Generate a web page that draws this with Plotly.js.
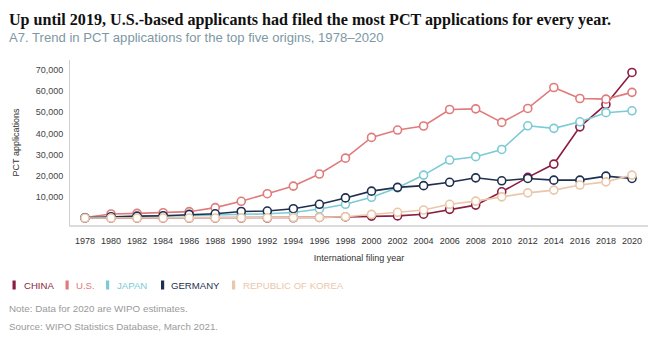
<!DOCTYPE html>
<html>
<head>
<meta charset="utf-8">
<script src="https://cdn.plot.ly/plotly-3.0.1.min.js"></script>
<style>
html,body{margin:0;padding:0;background:#fff;}
#chart{width:668px;height:337px;}
</style>
</head>
<body>
<div id="chart"></div>
<script>
const years = [1978,1980,1982,1984,1986,1988,1990,1992,1994,1996,1998,2000,2002,2004,2006,2008,2010,2012,2014,2016,2018,2020];
const china   = [0,0,0,0,0,0,0,0,100,300,500,900,1000,1800,4100,6100,12400,19200,25500,43100,53700,68800];
const us      = [200,1900,2200,2500,3000,4900,7900,11500,15100,20800,28300,38100,41600,43500,51300,51600,45200,51800,61700,56500,56200,59400];
const japan   = [50,300,500,800,1000,1300,1600,2000,2600,4300,6500,9800,14300,20300,27400,29000,32400,43600,42400,45500,49800,50700];
const germany = [100,600,900,1100,1700,2000,3100,3300,4400,6500,9500,12700,14500,15300,16900,19000,17600,18700,17900,17900,19800,18700];
const korea   = [0,0,0,0,0,10,50,100,200,300,600,1700,2700,3800,6500,8000,10000,11900,13200,15600,17100,20300];

const seriesNames = ["CHINA","U.S.","JAPAN","GERMANY","REPUBLIC OF KOREA"];
const seriesData = [china, us, japan, germany, korea];
const colors = ["#8c1d40","#e07b7b","#7ccad5","#1f2f4f","#eac7aa"];

const yTickVals = [10000,20000,30000,40000,50000,60000,70000];
const yTickText = ["10,000","20,000","30,000","40,000","50,000","60,000","70,000"];

const titleText = "Up until 2019, U.S.-based applicants had filed the most PCT applications for every year.";
const subtitleText = "A7. Trend in PCT applications for the top five origins, 1978–2020";
const noteText = "Note: Data for 2020 are WIPO estimates.";
const sourceText = "Source: WIPO Statistics Database, March 2021.";

// plot area geometry (pixels)
const L = 70, T = 60, W = 578, H = 165;
const px = x => (x - L) / W;
const py = y => (T + H - y) / H;

const traces = seriesData.map((d, i) => ({
  x: years, y: d, name: seriesNames[i], type: "scatter", mode: "lines+markers",
  line: {color: colors[i], width: 1.6},
  marker: {symbol: "circle", size: 8, color: "#ffffff", line: {color: colors[i], width: 1.6}},
  hoverinfo: "skip", showlegend: false, cliponaxis: false
}));

const legendPos = [[12.5,22],[65.5,74],[106,115],[161,169],[232,240.5]];
const shapes = [];
const annotations = [];
legendPos.forEach((p, i) => {
  shapes.push({type: "rect", xref: "paper", yref: "paper",
    x0: px(p[0]), x1: px(p[0] + 3.2), y0: py(289.5), y1: py(280.5),
    fillcolor: colors[i], line: {width: 0}});
  annotations.push({xref: "paper", yref: "paper", x: px(p[1]), y: py(285.5),
    xanchor: "left", yanchor: "middle", showarrow: false, text: seriesNames[i],
    font: {family: "Liberation Sans, Arial, sans-serif", size: 9.6, color: colors[i]}});
});

annotations.push({xref: "paper", yref: "paper", x: px(7), y: py(20), xanchor: "left", yanchor: "middle",
  showarrow: false, text: "<b>" + titleText + "</b>",
  font: {family: "Liberation Serif, Times New Roman, serif", size: 16.1, color: "#111111"}});
annotations.push({xref: "paper", yref: "paper", x: px(7), y: py(37.5), xanchor: "left", yanchor: "middle",
  showarrow: false, text: subtitleText,
  font: {family: "Liberation Sans, Arial, sans-serif", size: 13.1, color: "#7d98a4"}});
annotations.push({xref: "paper", yref: "paper", x: px(7), y: py(308), xanchor: "left", yanchor: "middle",
  showarrow: false, text: noteText,
  font: {family: "Liberation Sans, Arial, sans-serif", size: 9.8, color: "#9a9a9a"}});
annotations.push({xref: "paper", yref: "paper", x: px(7), y: py(326), xanchor: "left", yanchor: "middle",
  showarrow: false, text: sourceText,
  font: {family: "Liberation Sans, Arial, sans-serif", size: 9.8, color: "#9a9a9a"}});

const layout = {
  width: 668, height: 337,
  margin: {l: L, r: 668 - L - W, t: T, b: 337 - T - H, pad: 0},
  paper_bgcolor: "#ffffff", plot_bgcolor: "#ffffff",
  showlegend: false,
  font: {family: "Liberation Sans, Arial, sans-serif", color: "#333333"},
  xaxis: {
    range: [1976.85, 2021.23], tickvals: years, ticktext: years.map(String),
    showgrid: false, zeroline: false, showline: true, linecolor: "#dcdcdc", linewidth: 2,
    ticks: "outside", ticklen: 6, tickcolor: "rgba(0,0,0,0)",
    tickfont: {size: 9, color: "#333333"},
    title: {text: "International filing year", font: {size: 9, color: "#333333"}, standoff: 10}
  },
  yaxis: {
    range: [-3300, 74700], tickvals: yTickVals, ticktext: yTickText,
    showgrid: false, zeroline: false, showline: true, linecolor: "#cfcfcf", linewidth: 1,
    ticks: "outside", ticklen: 4, tickcolor: "rgba(0,0,0,0)",
    tickfont: {size: 9, color: "#444444"},
    title: {text: "PCT applications", font: {size: 9, color: "#333333"}, standoff: 14}
  },
  shapes: shapes,
  annotations: annotations
};

Plotly.newPlot("chart", traces, layout, {displayModeBar: false, staticPlot: true});
</script>
</body>
</html>
